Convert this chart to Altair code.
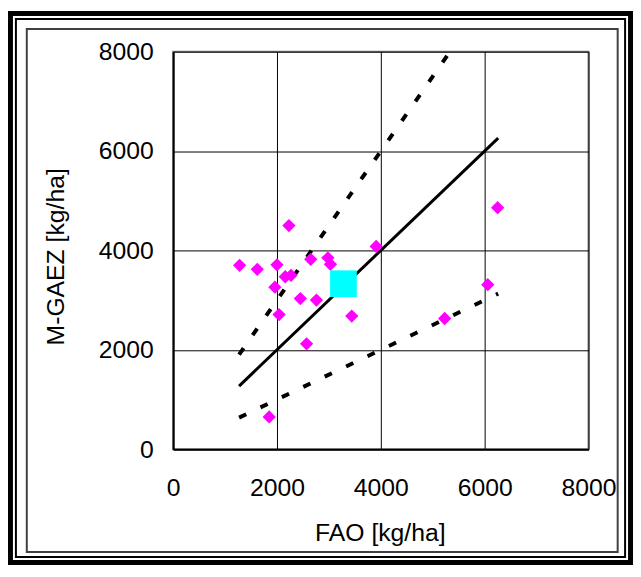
import altair as alt
import pandas as pd

# Scatter points: FAO vs M-GAEZ yield [kg/ha]
fao = [2230, 1280, 1620, 2000, 2650, 2980, 3030, 2160, 2270, 1960, 2450, 2760,
       2040, 3440, 2570, 3910, 1850, 6250, 6060, 5230]
gaez = [4500, 3700, 3620, 3710, 3820, 3850, 3720, 3470, 3500, 3260, 3030, 3000,
        2710, 2680, 2120, 4080, 650, 4860, 3310, 2630]

# Mean point (cyan square)
mean_fao = [3280]
mean_gaez = [3330]

# Reference lines (1:1, +50 %, -50 %)
line_x = [1270, 6260]
line_one = [1270, 6260]
line_low = [635, 3130]
upper_x = [1270, 5333]
upper_y = [1905, 8000]

ticks = [0, 2000, 4000, 6000, 8000]
FONT = "Liberation Sans"
PX0, PY0 = 175, 49  # plot origin on the page

x_scale = alt.Scale(domain=[0, 8000], nice=False)
y_scale = alt.Scale(domain=[0, 8000], nice=False)

x_axis = alt.Axis(
    title="FAO [kg/ha]", values=ticks, format="d", grid=True, gridColor="black", gridWidth=1,
    domainColor="black", domainWidth=2, ticks=False, tickSize=0, labelFlush=False,
    labelPadding=27, labelFontSize=25, labelFont=FONT, labelColor="black",
    titleFontSize=25, titleFont=FONT, titleFontWeight="normal", titleColor="black",
    titleX=209, titleY=92, titleBaseline="alphabetic", labelOverlap=False,
)
y_axis = alt.Axis(
    title="M-GAEZ [kg/ha]", values=ticks, format="d", grid=True, gridColor="black", gridWidth=1,
    domainColor="black", domainWidth=2, ticks=False, tickSize=0, labelFlush=False,
    labelPadding=20, labelFontSize=25, labelFont=FONT, labelColor="black",
    titleFontSize=25, titleFont=FONT, titleFontWeight="normal", titleColor="black",
    titleX=-111, titleY=207, titleBaseline="alphabetic", titleAngle=270,
    labelOverlap=False,
)


def enc(ch):
    return ch.encode(
        x=alt.X("fao:Q", scale=x_scale, axis=x_axis),
        y=alt.Y("gaez:Q", scale=y_scale, axis=y_axis),
    )


one_df = pd.DataFrame({"fao": line_x, "gaez": line_one})
low_df = pd.DataFrame({"fao": line_x, "gaez": line_low})
up_df = pd.DataFrame({"fao": upper_x, "gaez": upper_y})
pts_df = pd.DataFrame({"fao": fao, "gaez": gaez})
mean_df = pd.DataFrame({"fao": mean_fao, "gaez": mean_gaez})

solid = enc(alt.Chart(one_df).mark_line(color="black", strokeWidth=3))
upper = enc(alt.Chart(up_df).mark_line(color="black", strokeWidth=4,
                                        strokeDash=[8, 16], strokeCap="butt"))
lower = enc(alt.Chart(low_df).mark_line(color="black", strokeWidth=4,
                                         strokeDash=[8, 16], strokeCap="butt"))
pts = enc(alt.Chart(pts_df).mark_point(shape="diamond", filled=True, size=180,
                                        color="#FF00FF", opacity=1, strokeWidth=0))
sq = enc(alt.Chart(mean_df).mark_point(shape="square", filled=True, size=729,
                                        color="#00FFFF", opacity=1, strokeWidth=0))

one = pd.DataFrame({"k": [0]})


def frame(x1, y1, x2, y2, color, width):
    return alt.Chart(one).mark_rect(filled=False, stroke=color, strokeWidth=width).encode(
        x=alt.value(x1 - PX0), x2=alt.value(x2 - PX0),
        y=alt.value(y1 - PY0), y2=alt.value(y2 - PY0),
    )


f_thick = frame(10.5, 10.5, 637.5, 565.5, "black", 5)
f_thin = frame(16, 16, 632, 560, "black", 2)
f_chart = frame(27, 26, 624.5, 555, "#404040", 2)

chart = alt.layer(f_thick, f_thin, f_chart, solid, upper, lower, pts, sq).properties(
    width=420, height=402,
    padding={"left": 167, "top": 41, "right": 45, "bottom": 117},
    autosize=alt.AutoSizeParams(type="none"),
    background="white",
).configure_view(stroke="#808080", strokeWidth=2)

chart.save("out.html", embed_options={"renderer": "svg", "actions": False})
